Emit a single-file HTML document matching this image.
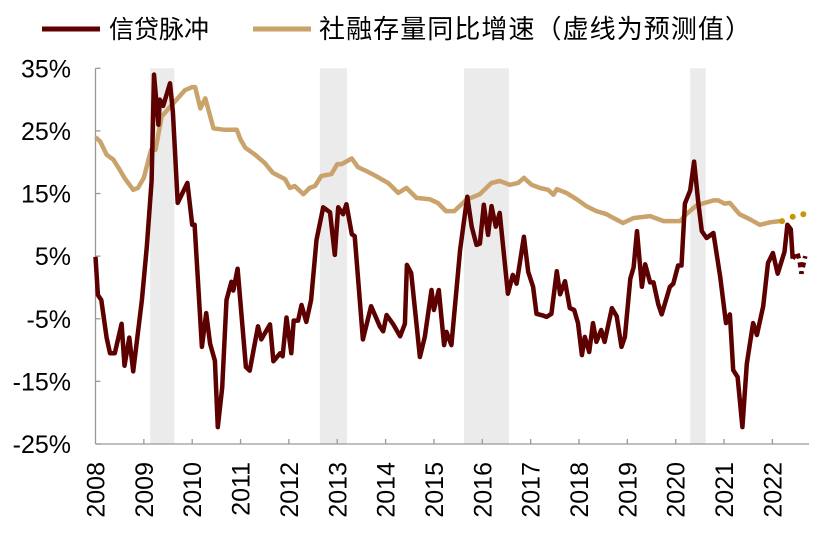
<!DOCTYPE html>
<html><head><meta charset="utf-8"><style>
body{margin:0;background:#fff;}
svg{display:block;font-family:"Liberation Sans","Noto Sans CJK SC",sans-serif;}
</style></head><body>
<svg id="chart" width="838" height="542" viewBox="0 0 838 542">
<g id="shade"></g>
<g id="axes"></g>
<g id="series"></g>
<g>
<line x1="42" y1="29" x2="100" y2="29" stroke="#5c0000" stroke-width="5"/>
<text x="109" y="38" font-size="25" fill="#000">信贷脉冲</text>
<line x1="253" y1="29" x2="311" y2="29" stroke="#c9a36b" stroke-width="5"/>
<text x="319" y="38" font-size="26" fill="#000" textLength="432">社融存量同比增速（虚线为预测值）</text>
</g>
</svg>
<script>
const pulseDates=[2008.0,2008.05,2008.12,2008.23,2008.3,2008.4,2008.54,2008.6,2008.7,2008.78,2008.96,2009.06,2009.16,2009.21,2009.3,2009.33,2009.4,2009.54,2009.6,2009.7,2009.9,2010.0,2010.05,2010.2,2010.29,2010.37,2010.47,2010.53,2010.62,2010.71,2010.81,2010.85,2010.94,2011.02,2011.11,2011.19,2011.36,2011.43,2011.61,2011.68,2011.82,2011.87,2011.95,2012.05,2012.1,2012.19,2012.26,2012.36,2012.46,2012.57,2012.71,2012.85,2012.95,2013.02,2013.12,2013.19,2013.3,2013.36,2013.53,2013.7,2013.88,2013.95,2014.02,2014.15,2014.3,2014.4,2014.44,2014.53,2014.71,2014.81,2014.95,2015.0,2015.1,2015.21,2015.26,2015.36,2015.54,2015.69,2015.78,2015.88,2015.95,2016.03,2016.12,2016.19,2016.28,2016.36,2016.53,2016.63,2016.71,2016.86,2016.95,2017.05,2017.12,2017.26,2017.33,2017.43,2017.54,2017.61,2017.71,2017.81,2017.9,2017.98,2018.06,2018.12,2018.21,2018.29,2018.36,2018.46,2018.53,2018.68,2018.78,2018.88,2018.95,2019.06,2019.13,2019.2,2019.3,2019.37,2019.47,2019.54,2019.64,2019.71,2019.88,2019.95,2020.05,2020.12,2020.19,2020.3,2020.38,2020.47,2020.54,2020.64,2020.78,2020.92,2021.04,2021.12,2021.19,2021.28,2021.38,2021.47,2021.6,2021.68,2021.81,2021.91,2022.01,2022.11,2022.25,2022.31,2022.38,2022.42];
const pulseValues=[4.9,-1.2,-2,-8,-10.5,-10.5,-5.8,-12.5,-8,-13.4,-2,6.5,17,34,26,30,29,32.6,28,13.5,16.7,10,10,-9.5,-4.1,-9,-11.7,-22.3,-16,-2,0.9,-0.5,3,-4.4,-12.7,-13.3,-6.2,-8.3,-5.9,-11.8,-10.5,-11,-4.8,-10.5,-5.3,-5.3,-2.8,-5.5,-2,7.6,12.8,12,5.2,12.8,11.7,13.3,8.5,8.2,-8.3,-3,-6.2,-7,-4.4,-5.8,-7.8,-5.8,3.6,2.3,-11.1,-7.9,-0.4,-3.6,-0.4,-9.2,-7.1,-9.2,6,14.5,9.7,6.8,7,13.2,8.4,13,9.7,11.9,-1,2,0.6,8.1,2.5,0.1,-4.2,-4.5,-4.7,-4.2,2.6,-1.1,1,-3.3,-3.6,-5.7,-10.8,-7.9,-10.3,-5.7,-8.7,-6.8,-8.7,-3.3,-4.6,-9.5,-7.9,1.4,3.2,9,0.1,3.7,0.8,0.8,-2.7,-4.3,0.1,0.6,3.5,3.5,13.4,15.5,20.1,13.4,9,7.9,8.7,1.7,-5.7,-4.3,-13.2,-14.3,-22.3,-12.2,-5.7,-7.6,-3,3.9,5.5,2.2,5.7,10,9.3,4.6];
const pulseFcDates=[2022.42,2022.51,2022.56,2022.6,2022.68];
const pulseFcValues=[4.6,5.6,4.3,2.2,5];
const tsfDates=[2008.0,2008.1,2008.23,2008.37,2008.5,2008.6,2008.78,2008.88,2009.0,2009.15,2009.24,2009.37,2009.55,2009.85,2010.0,2010.06,2010.17,2010.27,2010.44,2010.65,2010.75,2010.92,2011.0,2011.1,2011.3,2011.5,2011.67,2011.92,2012.02,2012.12,2012.3,2012.43,2012.54,2012.67,2012.88,2013.0,2013.09,2013.3,2013.43,2013.6,2013.8,2014.05,2014.09,2014.26,2014.43,2014.64,2014.91,2015.08,2015.25,2015.42,2015.67,2015.95,2016.19,2016.36,2016.57,2016.74,2016.86,2017.02,2017.19,2017.36,2017.47,2017.54,2017.74,2017.95,2018.15,2018.36,2018.57,2018.64,2018.91,2019.13,2019.47,2019.75,2020.09,2020.22,2020.43,2020.78,2020.88,2021.01,2021.12,2021.32,2021.53,2021.74,2021.95,2022.15];
const tsfValues=[24,23.3,21.2,20.4,18.8,17.5,15.6,15.9,17.5,22,22,27.3,28.9,31.5,32,32,28.6,30.2,25.4,25.2,25.2,25.2,23.6,22.3,21.2,19.9,18.3,17.3,15.9,16.2,14.9,15.9,16.2,17.8,18.1,19.7,19.7,20.6,19.2,18.6,17.8,16.7,16.4,15.1,15.9,14.3,14.1,13.5,12.2,12.2,14,14.9,16.7,17,16.4,16.7,17.5,16.4,15.9,15.6,14.8,15.7,15.1,14.1,13,12.2,11.7,11.4,10.3,11.1,11.4,10.6,10.6,11.7,13.1,13.9,13.9,13.4,13.5,11.7,10.9,10,10.4,10.6];
const tsfFcDates=[2022.2,2022.42,2022.64];
const tsfFcValues=[10.6,11.3,11.7];
const shadeStarts=[2009.13,2012.64,2015.62,2020.3];
const shadeEnds=[2009.63,2013.2,2016.55,2020.62];
const yTicks=[35,25,15,5,-5,-15,-25];
const yTickLabels=["35%","25%","15%","5%","-5%","-15%","-25%"];
const xYears=[2008,2009,2010,2011,2012,2013,2014,2015,2016,2017,2018,2019,2020,2021,2022];

const NS="http://www.w3.org/2000/svg";
const X0=95.5,X1=809,YT=68.3,YB=444;
function xs(t){return X0+(t-2008)*48.35;}
function ys(v){return YT+(35-v)*(YB-YT)/60;}
function mk(tag,attrs,parent){const e=document.createElementNS(NS,tag);for(const k in attrs)e.setAttribute(k,attrs[k]);parent.appendChild(e);return e;}
const shade=document.getElementById('shade'),axes=document.getElementById('axes'),series=document.getElementById('series');
shadeStarts.forEach((s,i)=>{const r=mk('rect',{x:xs(s),y:YT,width:xs(shadeEnds[i])-xs(s),height:YB-YT,fill:'#ebebeb'},shade);

});
const ya=mk('line',{x1:X0,y1:YT,x2:X0,y2:YB,stroke:'#999','stroke-width':1.3},axes);


const xa=mk('line',{x1:X0,y1:YB,x2:X1,y2:YB,stroke:'#999','stroke-width':1.3},axes);


yTicks.forEach((v,i)=>{mk('line',{x1:X0,y1:ys(v),x2:X0+5,y2:ys(v),stroke:'#999','stroke-width':1.3},axes);
const t=mk('text',{x:71,y:ys(v)+9,'text-anchor':'end','font-size':25,fill:'#000'},axes);t.textContent=yTickLabels[i];

});
xYears.forEach(yr=>{const x=xs(yr);if(yr>2008)mk('line',{x1:x,y1:YB,x2:x,y2:YB-5,stroke:'#999','stroke-width':1.3},axes);
const t=mk('text',{x:0,y:0,transform:`translate(${x+9},462) rotate(-90)`,'text-anchor':'end','font-size':25,fill:'#000'},axes);t.textContent=String(yr);

});
function pts(d,v){return d.map((t,i)=>xs(t).toFixed(1)+','+ys(v[i]).toFixed(1)).join(' ');}
const l1=mk('polyline',{points:pts(tsfDates,tsfValues),fill:'none',stroke:'#c9a36b','stroke-width':4.5,'stroke-linejoin':'round'},series);


const l2=mk('polyline',{points:pts(pulseDates,pulseValues),fill:'none',stroke:'#5c0000','stroke-width':4.5,'stroke-linejoin':'round'},series);


const l3=mk('polyline',{points:pts(pulseFcDates,pulseFcValues),fill:'none',stroke:'#5c0000','stroke-width':4.5,'stroke-dasharray':'5 4'},series);


tsfFcDates.forEach((t,i)=>{const c=mk('circle',{cx:xs(t),cy:ys(tsfFcValues[i]),r:3,fill:'#c8940c'},series);

});
</script>
</body></html>
